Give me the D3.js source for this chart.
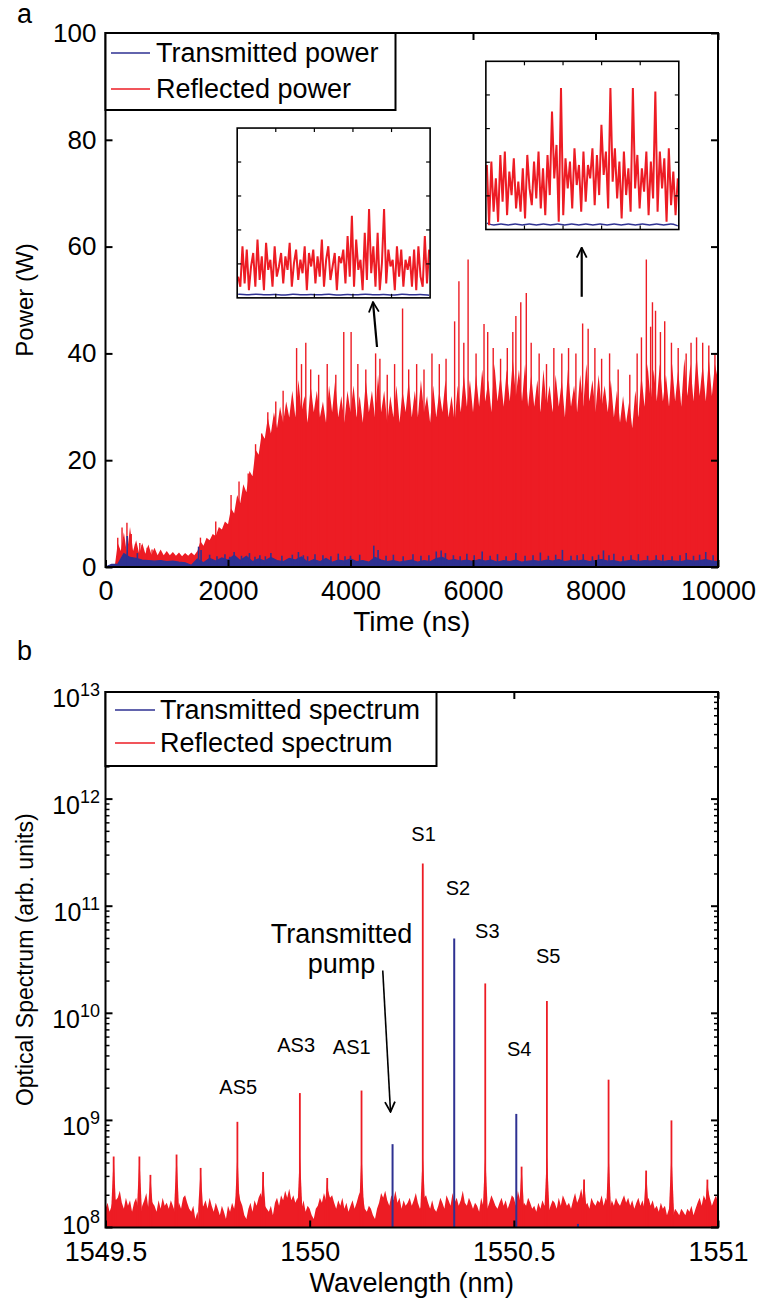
<!DOCTYPE html>
<html>
<head>
<meta charset="utf-8">
<script src="https://cdn.jsdelivr.net/npm/d3@7"></script>
<style>
body { margin: 0; background: #fff; }
text { font-family: "Liberation Sans", Arial, sans-serif; fill: #000; }
</style>
</head>
<body>
<script>
// ---- panel a : power vs time ----
var timeStep = 50; // ns between envelope samples
var reflectedEnvelope = [
  0,0,0,0,4.5,3,6.5,2.5,7.5,3,5,2.5,4.5,2.5,4.2,2.3,3.6,2.2,3.3,2.2,3.0,
  2.2,2.8,2.1,2.7,2.0,2.6,2.1,2.7,2.2,3.0,4.8,4.0,5.5,5.0,6.2,5.8,7.5,7.0,8.5,8.0,
  11,10,13.5,12,15.5,14,18,17,22,21,25,24,28,25,29,26,30,27,31,28,
  33,28,35,29,32,27,34,29,33,28,31,27,34,29,35,28,32,27,33,29,
  34,28,32,27,35,29,33,28,36,29,33,27,32,28,34,27,33,29,35,28,
  33,28,35,29,32,27,34,28,33,29,35,28,32,27,34,29,36,30,35,29,
  36,30,37,31,35,29,38,31,36,30,37,31,39,32,37,31,38,30,36,30,
  35,29,37,30,34,29,36,30,35,28,37,30,34,29,36,30,38,31,35,29,
  36,30,34,29,35,28,33,27,32,27,31,26,33,28,36,30,38,31,37,31,
  38,31,36,30,38,31,37,30,39,32,38,31,40,32,38,31,39,32,38,35];
var reflectedSpikes = [[200,5.5],[270,7.4],[350,8.3],[420,6.2],[490,4.3],[560,4.5],[600,4.1],[680,3.6],[760,3.3],
  [1550,5.5],[1800,8.5],[2050,13.5],[2180,16],[2330,17.5],[2450,23],[2550,25],[2650,29],[2780,31],[2900,33],
  [3120,41],[3200,38],[3270,42],[3350,37],[3480,36],[3620,38],[3760,36],[3890,44],[4010,44],[4120,38],
  [4250,37],[4410,40],[4480,39],[4600,36],[4720,38],[4850,48.4],[4950,37],[5080,38],[5200,37],[5330,40],
  [5450,38],[5560,39],[5700,46],[5770,53.5],[5850,42],[5920,57.6],[6050,40],[6180,45.5],[6240,44],[6330,41],
  [6450,39],[6560,41],[6650,44],[6700,47],[6780,49.6],[6870,51.3],[6950,42],[7080,40],[7200,38],[7320,41],
  [7450,40],[7560,41],[7680,40],[7790,45.6],[7880,44.6],[7990,41],[8100,39],[8230,40],[8370,37],[8560,36],
  [8680,40],[8750,43],[8830,57.6],[8900,45],[8930,49.6],[8980,48],[9060,44],[9130,46],[9240,42],[9350,41],
  [9480,40],[9560,42],[9650,43],[9750,42],[9850,41.5],[9950,40]];
var transmittedPower = [0,0.5,0.5,2.5,1.8,1.6,1.3,1.2,1.1,1.2,1.0,1.1,0.9,0.8,0.3,1.5,0.8,1.6,1.1,1.7,
  1.3,2.2,1.2,2.0,1.0,1.5,1.1,1.8,1.2,1.0,1.6,1.3,1.9,0.9,1.4,1.0,1.6,0.9,1.3,1.1,
  1.5,1.0,1.2,0.9,1.8,1.3,1.0,1.2,0.9,1.1,1.3,0.9,1.2,1.0,1.6,1.8,1.2,1.4,1.1,1.3,
  1.0,1.4,1.1,1.3,0.9,1.2,1.0,1.3,0.9,1.1,1.2,1.0,1.3,1.1,1.4,1.0,1.2,1.1,1.3,1.0,
  1.2,1.4,1.1,1.2,0.9,1.1,1.3,1.0,1.2,1.1,1.3,1.0,1.2,1.1,1.0,1.3,1.1,1.2,1.4,1.1,1.0];
var transmittedStep = 100;
var transmittedSpikes = [[354,5.8],[520,2.6],[1520,3.8],[1560,3.2],[1700,2.3],[1820,2.0],[1950,2.4],[2030,1.9],
  [2100,2.8],[2220,2.1],[2350,2.6],[2440,1.9],[2520,2.2],[2610,2.0],[2700,2.6],[2880,2.1],[3050,2.3],[3150,2.8],
  [3230,2.2],[3300,2.0],[3420,2.4],[3550,2.2],[3680,2.0],[3800,2.5],[3910,2.0],[4000,2.1],[4150,2.3],[4380,4.0],
  [4450,3.2],[4580,2.1],[4700,2.3],[4860,2.0],[5020,2.4],[5150,2.1],[5280,2.2],[5400,2.9],[5480,3.1],[5550,2.6],
  [5680,2.2],[5790,2.0],[5900,2.5],[6020,2.2],[6150,2.9],[6280,2.1],[6400,2.4],[6540,2.0],[6700,2.6],[6850,2.1],
  [6980,2.2],[7100,2.7],[7230,2.1],[7350,2.3],[7460,3.2],[7600,2.1],[7700,2.2],[7800,2.4],[7950,2.0],[8050,2.3],
  [8130,3.1],[8220,2.2],[8300,2.5],[8450,2.0],[8580,2.2],[8700,2.4],[8850,2.1],[8990,2.2],[9100,2.3],[9250,2.0],
  [9380,2.2],[9480,2.6],[9600,2.1],[9700,2.3],[9800,2.8],[9920,2.2]];
var timeTicks = [0,2000,4000,6000,8000,10000];
var powerTicks = [0,20,40,60,80,100];

// insets (zoomed traces, 5 grid units high)
var inset1Reflected = [0.6,0.3,1.5,0.4,1.4,0.2,0.9,1.3,0.3,1.7,0.5,1.2,0.2,1.6,0.8,1.1,0.3,1.5,0.6,0.9,
  1.3,0.4,1.2,0.8,1.6,0.3,1.0,1.4,0.5,1.1,0.7,1.5,0.2,1.3,0.9,1.4,0.4,1.2,0.6,1.7,
  0.3,1.1,1.5,0.5,0.9,1.3,0.2,1.2,1.0,1.4,0.4,1.8,0.6,2.4,0.3,1.7,0.8,1.1,0.2,1.9,
  0.5,2.6,0.7,1.5,0.3,1.9,0.2,1.0,2.6,0.4,1.4,0.9,1.1,0.2,1.5,0.6,1.4,0.3,1.1,0.8,
  1.2,0.3,1.4,0.2,1.5,0.6,0.3,1.8,0.4,1.4];
var inset1Transmitted = [0.08,0.05,0.09,0.05,0.08,0.04,0.09,0.05,0.08,0.05,0.09,0.04,0.08,0.05,0.09,0.05,0.08,0.04,0.09,0.05,0.08,0.05];
var inset2Reflected = [1.9,0.1,2.0,0.5,1.5,0.2,2.2,0.8,2.3,0.4,1.7,1.0,2.1,0.6,1.4,0.5,1.8,0.3,2.2,1.2,
  0.7,2.0,0.9,2.3,0.6,1.8,0.4,2.2,1.0,3.5,1.5,2.5,0.2,4.2,0.4,2.1,1.2,2.0,0.6,2.4,
  1.3,1.9,0.5,2.3,0.8,1.9,1.5,2.4,0.7,2.2,1.0,3.1,1.6,2.3,0.6,4.2,1.4,2.4,0.9,2.0,
  0.3,2.3,1.0,1.8,0.5,4.2,1.2,2.2,0.6,1.8,1.1,2.3,0.4,2.0,0.9,4.1,0.5,2.3,1.2,2.1,
  0.2,2.4,0.7,1.7,0.4,1.5];
var inset2Transmitted = [0.16,0.08,0.16,0.08,0.16,0.08,0.16,0.08,0.16,0.08,0.16,0.08,0.16,0.08,0.16,0.08,
  0.16,0.08,0.16,0.08,0.16,0.08,0.16,0.08,0.16,0.08,0.16,0.08];

// ---- panel b : optical spectrum ----
var wlStart = 1549.5, wlStep = 0.005;
var reflectedNoise = [ // units of 1e8
  1.5,1.7,1.4,1.6,2.0,1.8,1.9,2.2,1.7,1.5, 1.9,1.6,1.8,1.4,1.7,1.9,1.5,1.3,1.6,1.8,
  2.1,1.5,1.9,1.7,1.6,1.4,1.8,1.5,1.9,1.6, 1.7,1.5,1.8,1.6,1.4,1.3,1.7,1.5,1.9,2.0,
  1.7,1.5,1.4,1.6,1.2,1.4,1.1,1.5,1.6,1.8, 1.5,1.9,1.6,1.4,1.7,1.5,1.3,1.6,1.4,1.2,
  1.6,1.4,1.7,1.5,2.0,2.3,1.8,1.6,1.3,1.2, 1.5,1.7,1.4,1.8,1.6,1.9,2.1,1.8,1.6,1.5,
  1.4,1.6,1.3,1.7,1.9,1.6,2.0,1.8,2.2,1.9, 2.3,1.8,2.0,1.7,1.9,1.6,1.5,1.8,1.4,1.6,
  1.5,1.3,1.2,1.5,1.6,1.9,1.7,2.1,1.8,2.2, 1.9,2.0,1.7,1.5,1.8,1.6,1.9,1.5,1.7,1.4,
  1.6,1.8,1.5,1.7,2.0,2.2,2.0,1.5,1.4,1.6, 1.5,1.3,1.2,1.5,1.7,2.1,1.9,2.2,1.8,1.6,
  2.0,1.8,2.2,1.7,1.9,1.5,1.8,1.6,1.7,1.9, 1.6,1.8,2.1,1.7,1.5,1.6,1.9,2.0,1.7,1.5,
  1.8,1.5,1.4,1.6,1.9,1.7,1.5,2.0,1.8,1.6, 2.1,1.7,1.9,1.6,1.8,2.2,1.7,1.6,1.9,1.7,
  1.5,1.7,1.6,1.4,1.9,1.6,1.8,1.5,1.7,2.0, 1.8,1.6,1.5,1.7,1.9,1.6,1.8,1.5,1.7,2.0,
  1.9,1.6,2.2,1.8,1.5,1.7,1.6,1.9,1.7,1.5, 1.6,1.4,1.7,1.5,1.8,1.6,1.7,1.4,1.6,1.8,
  1.7,1.5,1.9,1.6,2.0,1.8,1.6,1.7,1.5,1.8, 2.1,1.7,1.9,2.3,1.8,1.6,1.7,1.5,1.9,1.7,
  1.6,1.8,1.7,2.0,1.6,1.9,1.7,1.5,1.8,1.6, 1.9,1.7,1.6,1.8,2.0,1.7,1.9,1.6,1.8,1.5,
  1.7,1.9,1.6,1.8,1.5,1.7,1.9,1.6,1.8,1.5, 1.6,1.4,1.7,1.5,1.6,1.3,1.5,1.4,1.3,1.5,
  1.4,1.3,1.5,1.4,1.3,1.5,1.4,1.6,1.3,1.5, 1.7,1.9,1.6,2.0,1.8,2.3,1.9,1.6,1.8,2.0,
  1.7];
var reflectedPeaks = [[1549.520,4.6e8],[1549.583,4.6e8],[1549.610,3.1e8],[1549.674,4.8e8],[1549.733,3.6e8],
  [1549.823,9.7e8],[1549.886,3.3e8],[1549.976,1.8e9],[1550.043,2.9e8],[1550.127,1.9e9],[1550.277,2.5e11],
  [1550.430,1.9e10],[1550.519,3.7e8],[1550.581,1.3e10],[1550.672,2.8e8],[1550.732,2.4e9],[1550.824,3.4e8],
  [1550.886,1.0e9],[1550.974,2.8e8]];
var transmittedPeaks = [[1550.203,6.0e8],[1550.354,5.0e10],[1550.506,1.15e9],[1550.657,1.08e8]];
var wlTicks = [1549.5,1550,1550.5,1551];
var wlTickLabels = ["1549.5","1550","1550.5","1551"];
var specDecades = [8,9,10,11,12,13];
var peakLabels = [["S1",1550.279,11.61],["S2",1550.363,11.10],["S3",1550.435,10.70],["S5",1550.584,10.47],
  ["S4",1550.513,9.60],["AS5",1549.825,9.25],["AS3",1549.967,9.64],["AS1",1550.103,9.62]];

var RED = "#ED1C24", BLUE = "#2E3192";

var svg = d3.select("body").append("svg").attr("width", 763).attr("height", 1304);
svg.append("defs").append("marker")
  .attr("id", "head").attr("viewBox", "0 0 12 12").attr("refX", 11).attr("refY", 6)
  .attr("markerWidth", 12).attr("markerHeight", 12).attr("markerUnits", "userSpaceOnUse")
  .attr("orient", "auto")
  .append("path").attr("d", "M1,1 L11,6 L1,11").attr("fill", "none").attr("stroke", "#000").attr("stroke-width", 1.8);

function cleanAxis(g) {
  g.select(".domain").remove();
  g.selectAll(".tick line").attr("stroke", "#000").attr("stroke-width", 2);
  g.selectAll(".tick text").attr("font-size", 27).attr("font-family", null).attr("fill", "#000");
}

// ================= panel a =================
var x1 = d3.scaleLinear().domain([0, 10000]).range([105.5, 718]);
var y1 = d3.scaleLinear().domain([0, 100]).range([567, 33]);
var ga = svg.append("g");

var env = reflectedEnvelope.map(function(v, i) { return [i * timeStep, v]; });
ga.append("path")
  .attr("d", d3.area().x(function(d){return x1(d[0]);}).y0(y1(0)).y1(function(d){return y1(d[1]);})(env))
  .attr("fill", RED);
ga.selectAll(".rspike").data(reflectedSpikes).enter().append("line")
  .attr("x1", function(d){return x1(d[0]);}).attr("x2", function(d){return x1(d[0]);})
  .attr("y1", y1(0)).attr("y2", function(d){return y1(d[1]);})
  .attr("stroke", RED).attr("stroke-width", 1.4);

var tr = transmittedPower.map(function(v, i) { return [i * transmittedStep, v]; });
ga.append("path")
  .attr("d", d3.area().x(function(d){return x1(d[0]);}).y0(y1(0)).y1(function(d){return y1(d[1]);})(tr))
  .attr("fill", BLUE).attr("stroke", BLUE).attr("stroke-width", 1.2);
ga.selectAll(".tspike").data(transmittedSpikes).enter().append("line")
  .attr("x1", function(d){return x1(d[0]);}).attr("x2", function(d){return x1(d[0]);})
  .attr("y1", y1(0)).attr("y2", function(d){return y1(d[1]);})
  .attr("stroke", BLUE).attr("stroke-width", 1.6);

// insets
function drawInset(t0, t1, p0, p1, red, blue) {
  var left = x1(t0), right = x1(t1), bottom = y1(p0), top = y1(p1);
  var g = ga.append("g");
  g.append("rect").attr("x", left).attr("y", top).attr("width", right - left).attr("height", bottom - top)
    .attr("fill", "#fff");
  var xi = d3.scaleLinear().domain([0, red.length - 1]).range([left + 1, right - 1]);
  var xb = d3.scaleLinear().domain([0, blue.length - 1]).range([left + 1, right - 1]);
  var yi = d3.scaleLinear().domain([0, 5]).range([bottom - 1, top]);
  g.append("path").attr("d", d3.line().x(function(d,i){return xb(i);}).y(function(d){return yi(d);}).curve(d3.curveBasis)(blue))
    .attr("fill", "none").attr("stroke", BLUE).attr("stroke-width", 1.5);
  g.append("path").attr("d", d3.line().x(function(d,i){return xi(i);}).y(function(d){return yi(d);})(red))
    .attr("fill", "none").attr("stroke", RED).attr("stroke-width", 2);
  var xg = d3.scaleLinear().domain([0, 5]).range([left, right]);
  var yg = d3.scaleLinear().domain([0, 5]).range([bottom, top]);
  [1,2,3,4].forEach(function(k) {
    g.append("line").attr("x1", xg(k)).attr("x2", xg(k)).attr("y1", bottom).attr("y2", bottom - 4).attr("stroke", "#000").attr("stroke-width", 1.2);
    g.append("line").attr("x1", xg(k)).attr("x2", xg(k)).attr("y1", top).attr("y2", top + 4).attr("stroke", "#000").attr("stroke-width", 1.2);
    g.append("line").attr("x1", left).attr("x2", left + 4).attr("y1", yg(k)).attr("y2", yg(k)).attr("stroke", "#000").attr("stroke-width", 1.2);
    g.append("line").attr("x1", right).attr("x2", right - 4).attr("y1", yg(k)).attr("y2", yg(k)).attr("stroke", "#000").attr("stroke-width", 1.2);
  });
  g.append("rect").attr("x", left).attr("y", top).attr("width", right - left).attr("height", bottom - top)
    .attr("fill", "none").attr("stroke", "#000").attr("stroke-width", 1.6);
}
drawInset(2150, 5300, 50.4, 82.2, inset1Reflected, inset1Transmitted);
drawInset(6210, 9360, 63.2, 94.7, inset2Reflected, inset2Transmitted);

// arrows
ga.append("line").attr("x1", x1(4433)).attr("y1", y1(41.2)).attr("x2", x1(4367)).attr("y2", y1(49.6))
  .attr("stroke", "#000").attr("stroke-width", 2.2).attr("marker-end", "url(#head)");
ga.append("line").attr("x1", x1(7775)).attr("y1", y1(50.6)).attr("x2", x1(7775)).attr("y2", y1(59.8))
  .attr("stroke", "#000").attr("stroke-width", 2.2).attr("marker-end", "url(#head)");

// axes
ga.append("g").attr("transform", "translate(0," + y1(0) + ")")
  .call(d3.axisBottom(x1).tickValues(timeTicks).tickSize(-7).tickPadding(14).tickFormat(d3.format("d"))).call(cleanAxis);
ga.append("g").attr("transform", "translate(0," + y1(100) + ")")
  .call(d3.axisTop(x1).tickValues(timeTicks).tickSize(-7).tickFormat("")).call(cleanAxis);
ga.append("g").attr("transform", "translate(" + x1(0) + ",0)")
  .call(d3.axisLeft(y1).tickValues(powerTicks).tickSize(-7).tickPadding(9)).call(cleanAxis)
  .selectAll(".tick text").attr("font-size", 26);
ga.append("g").attr("transform", "translate(" + x1(10000) + ",0)")
  .call(d3.axisRight(y1).tickValues(powerTicks).tickSize(-7).tickFormat("")).call(cleanAxis);
ga.append("rect").attr("x", x1(0)).attr("y", y1(100)).attr("width", x1(10000) - x1(0)).attr("height", y1(0) - y1(100))
  .attr("fill", "none").attr("stroke", "#000").attr("stroke-width", 2);

// legend a
ga.append("rect").attr("x", x1(0)).attr("y", y1(100)).attr("width", 290).attr("height", 77)
  .attr("fill", "#fff").attr("stroke", "#000").attr("stroke-width", 2);
[["Transmitted power", BLUE, 53], ["Reflected power", RED, 89]].forEach(function(l) {
  ga.append("line").attr("x1", 111).attr("x2", 150).attr("y1", l[2]).attr("y2", l[2]).attr("stroke", l[1]).attr("stroke-width", 1.5);
  ga.append("text").attr("x", 156).attr("y", l[2]).attr("dy", "0.35em").attr("font-size", 27).text(l[0]);
});

ga.append("text").attr("x", (x1(0) + x1(10000)) / 2).attr("y", 631).attr("text-anchor", "middle").attr("font-size", 28).text("Time (ns)");
ga.append("text").attr("transform", "translate(33," + (y1(0) + y1(100)) / 2 + ") rotate(-90)")
  .attr("text-anchor", "middle").attr("font-size", 24).text("Power (W)");
svg.append("text").attr("x", 17).attr("y", 23).attr("font-size", 27).text("a");

// ================= panel b =================
var x2 = d3.scaleLinear().domain([1549.5, 1551]).range([105.5, 718]);
var y2 = d3.scaleLog().domain([1e8, 1e13]).range([1227.5, 692]);
var gb = svg.append("g");

var noise = reflectedNoise.map(function(v, i) { return [wlStart + i * wlStep, v * 1e8]; });
gb.append("path")
  .attr("d", d3.area().x(function(d){return x2(d[0]);}).y0(y2(1e8)).y1(function(d){return y2(d[1]);})(noise))
  .attr("fill", RED);
reflectedPeaks.forEach(function(p) {
  var shoulder = Math.min(p[1], 5e8);
  gb.append("path")
    .attr("d", d3.area().x(function(d){return x2(d[0]);}).y0(y2(1e8)).y1(function(d){return y2(d[1]);})(
      [[p[0] - 0.006, 1.5e8], [p[0], shoulder], [p[0] + 0.006, 1.5e8]]))
    .attr("fill", RED);
  gb.append("line").attr("x1", x2(p[0])).attr("x2", x2(p[0])).attr("y1", y2(1e8)).attr("y2", y2(p[1]))
    .attr("stroke", RED).attr("stroke-width", 1.8);
});
transmittedPeaks.forEach(function(p) {
  gb.append("line").attr("x1", x2(p[0])).attr("x2", x2(p[0])).attr("y1", y2(1e8)).attr("y2", y2(p[1]))
    .attr("stroke", BLUE).attr("stroke-width", 2);
});

// axes b
gb.append("g").attr("transform", "translate(0," + y2(1e8) + ")")
  .call(d3.axisBottom(x2).tickValues(wlTicks).tickSize(-7).tickPadding(14)
    .tickFormat(function(d, i){ return wlTickLabels[i]; })).call(cleanAxis);
gb.append("g").attr("transform", "translate(0," + y2(1e13) + ")")
  .call(d3.axisTop(x2).tickValues(wlTicks).tickSize(-7).tickFormat("")).call(cleanAxis);
specDecades.forEach(function(e, k) {
  var yy = y2(Math.pow(10, e));
  [[x2.range()[0], 7], [x2.range()[1], -7]].forEach(function(s) {
    gb.append("line").attr("x1", s[0]).attr("x2", s[0] + s[1]).attr("y1", yy).attr("y2", yy).attr("stroke", "#000").attr("stroke-width", 2);
  });
  if (k < specDecades.length - 1) {
    for (var m = 2; m <= 9; m++) {
      var ym = y2(m * Math.pow(10, e));
      [[x2.range()[0], 4], [x2.range()[1], -4]].forEach(function(s) {
        gb.append("line").attr("x1", s[0]).attr("x2", s[0] + s[1]).attr("y1", ym).attr("y2", ym).attr("stroke", "#000").attr("stroke-width", 1.5);
      });
    }
  }
  var t = gb.append("text").attr("x", 100).attr("y", yy + (e === 8 ? 6 : 15)).attr("text-anchor", "end").attr("font-size", 25);
  t.append("tspan").text("10");
  t.append("tspan").attr("dy", -11).attr("font-size", 18).text(e);
});
gb.append("rect").attr("x", x2(1549.5)).attr("y", y2(1e13)).attr("width", x2(1551) - x2(1549.5)).attr("height", y2(1e8) - y2(1e13))
  .attr("fill", "none").attr("stroke", "#000").attr("stroke-width", 2);

// labels
peakLabels.forEach(function(l) {
  gb.append("text").attr("x", x2(l[1])).attr("y", y2(Math.pow(10, l[2]))).attr("text-anchor", "middle")
    .attr("font-size", 20).text(l[0]);
});
gb.append("text").attr("x", x2(1550.078)).attr("y", y2(Math.pow(10, 10.66))).attr("text-anchor", "middle").attr("font-size", 27).text("Transmitted");
gb.append("text").attr("x", x2(1550.078)).attr("y", y2(Math.pow(10, 10.38))).attr("text-anchor", "middle").attr("font-size", 27).text("pump");
gb.append("line").attr("x1", x2(1550.179)).attr("y1", y2(Math.pow(10, 10.40))).attr("x2", x2(1550.198)).attr("y2", y2(Math.pow(10, 9.08)))
  .attr("stroke", "#000").attr("stroke-width", 1.6).attr("marker-end", "url(#head)");

// legend b
gb.append("rect").attr("x", x2(1549.5)).attr("y", y2(1e13)).attr("width", 331).attr("height", 74)
  .attr("fill", "#fff").attr("stroke", "#000").attr("stroke-width", 2);
[["Transmitted spectrum", BLUE, 710], ["Reflected spectrum", RED, 743]].forEach(function(l) {
  gb.append("line").attr("x1", 115).attr("x2", 155).attr("y1", l[2]).attr("y2", l[2]).attr("stroke", l[1]).attr("stroke-width", 1.5);
  gb.append("text").attr("x", 160).attr("y", l[2]).attr("dy", "0.35em").attr("font-size", 27).text(l[0]);
});

gb.append("text").attr("x", (x2.range()[0] + x2.range()[1]) / 2).attr("y", 1292).attr("text-anchor", "middle").attr("font-size", 27).text("Wavelength (nm)");
gb.append("text").attr("transform", "translate(33," + (y2.range()[0] + y2.range()[1]) / 2 + ") rotate(-90)")
  .attr("text-anchor", "middle").attr("font-size", 23).text("Optical Spectrum (arb. units)");
svg.append("text").attr("x", 17).attr("y", 660).attr("font-size", 27).text("b");
</script>
</body>
</html>
